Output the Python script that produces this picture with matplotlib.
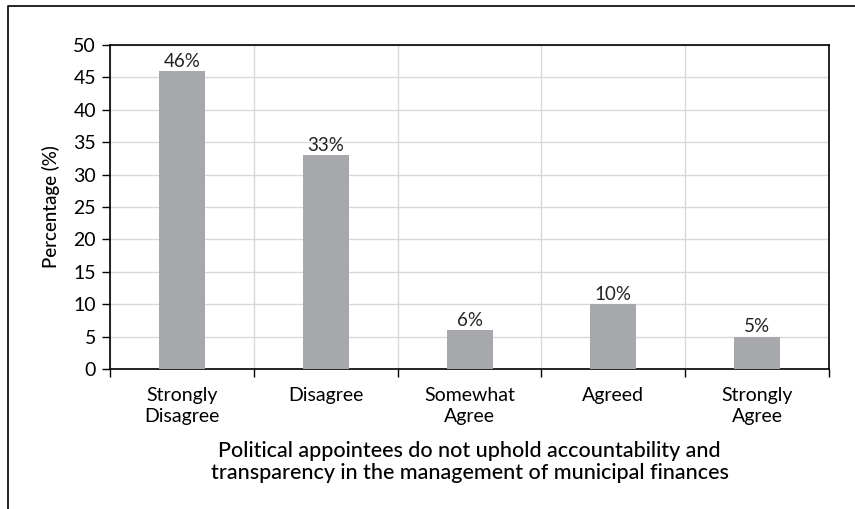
import numpy as np
import matplotlib
matplotlib.use("Agg")
import matplotlib.pyplot as plt
from matplotlib.lines import Line2D

categories = ["Strongly\nDisagree", "Disagree", "Somewhat\nAgree", "Agreed", "Strongly\nAgree"]
values = [46, 33, 6, 10, 5]
labels = ["46%", "33%", "6%", "10%", "5%"]
yticks = [0, 5, 10, 15, 20, 25, 30, 35, 40, 45, 50]

plt.rcParams['font.family'] = ['Lato', 'DejaVu Sans']

fig = plt.figure(figsize=(8.55, 5.09), dpi=100)
ax = fig.add_axes([0.1287, 0.275, 0.9696 - 0.1287, 0.9116 - 0.275])

x = np.arange(len(categories))
ax.bar(x, values, width=0.32, color='#a7a8ab', zorder=3)
for xi, v, lab in zip(x, values, labels):
    ax.text(xi, v + 0.2, lab, ha='center', va='bottom', fontsize=13.5, color='#222222')

ax.set_xlim(-0.5, len(categories) - 0.5)
ax.set_ylim(0, 50)
ax.set_yticks(yticks)
ax.set_yticklabels([str(t) for t in yticks], fontsize=14)

# category labels at centres, ticks at boundaries
ax.set_xticks(np.arange(-0.5, len(categories), 1.0))
ax.set_xticklabels([])
ax.set_xticks(x, minor=True)
ax.set_xticklabels(categories, minor=True, fontsize=14, linespacing=1.3)
ax.tick_params(axis='x', which='minor', length=0, pad=13)
ax.tick_params(axis='x', which='major', length=6, width=1, direction='out')
ax.tick_params(axis='y', length=6, width=1, direction='out', pad=4)

ax.grid(True, axis='y', color='#d9d9d9', linewidth=1, zorder=0)
ax.grid(True, axis='x', which='major', color='#d9d9d9', linewidth=1, zorder=0)
for s in ax.spines.values():
    s.set_color('black')
    s.set_linewidth(1.2)

ax.set_ylabel("Percentage (%)", fontsize=13.5, fontweight='medium', labelpad=10)
ax.set_xlabel("Political appointees do not uphold accountability and\n"
              "transparency in the management of municipal finances",
              fontsize=15.5, fontweight='medium', labelpad=11, linespacing=1.15)

# outer frame (left and top edges)
fig.add_artist(Line2D([8 / 855, 8 / 855, 1.0], [0.0, 1 - 6 / 509, 1 - 6 / 509],
                      transform=fig.transFigure, color='black', linewidth=1.2))

fig.savefig("out.png", dpi=100)
